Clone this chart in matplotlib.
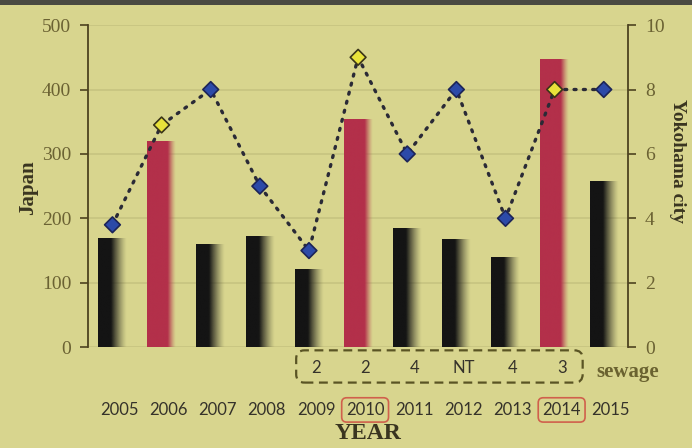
import numpy as np
import matplotlib.pyplot as plt
from matplotlib.patches import FancyBboxPatch, Rectangle
from matplotlib.transforms import blended_transform_factory, ScaledTranslation

years = ['2005', '2006', '2007', '2008', '2009', '2010',
         '2011', '2012', '2013', '2014', '2015']
japan_cases = [170, 320, 160, 172, 122, 355, 185, 168, 140, 448, 258]
yokohama_cases = [3.8, 6.9, 8.0, 5.0, 3.0, 9.0, 6.0, 8.0, 4.0, 8.0, 8.0]
highlight_years = ['2006', '2010', '2014']
boxed_years = ['2010', '2014']
sewage_years = ['2009', '2010', '2011', '2012', '2013', '2014']
sewage_values = ['2', '2', '4', 'NT', '4', '3']

BG = '#d8d58e'
AXIS = '#4d4320'
TICK = '#6b6233'
SERIF = ['Liberation Serif', 'DejaVu Serif']
SANS = ['Lato', 'DejaVu Sans']


def gradient_bar(ax, bar, rgb, solid=0.55):
    # fade the right part of each bar into the background
    x0, y0 = bar.get_x(), bar.get_y()
    w, h = bar.get_width(), bar.get_height()
    n = 80
    t = np.linspace(0, 1, n)
    alpha = np.clip((1 - t) / (1 - solid), 0, 1) ** 1.3
    img = np.zeros((1, n, 4))
    img[..., :3] = rgb
    img[..., 3] = alpha
    im = ax.imshow(img, extent=[x0, x0 + w, y0, y0 + h], aspect='auto',
                   zorder=2, interpolation='bilinear')
    im.set_clip_path(bar)


def plot_cases_chart(output_file):
    fig = plt.figure(figsize=(6.92, 4.48), dpi=100)
    fig.patch.set_facecolor(BG)
    ax = fig.add_axes([0.127, 0.225, 0.781, 0.719])
    ax.set_facecolor(BG)

    x = np.arange(len(years))
    colors = ['#b3304a' if y in highlight_years else '#141414' for y in years]
    bars = ax.bar(x, japan_cases, width=0.58, color='none', zorder=2)
    for bar, c in zip(bars, colors):
        rgb = np.array(plt.matplotlib.colors.to_rgb(c))
        gradient_bar(ax, bar, rgb, solid=0.72 if c != '#141414' else 0.45)

    ax.set_xlim(-0.5, len(years) - 0.5)
    ax.set_ylim(0, 500)
    ax.set_yticks(range(0, 501, 100))
    ax.yaxis.grid(True, color='#c6c380', lw=1.2, zorder=0)
    ax.set_axisbelow(True)
    ax.set_xticks([])
    for s in ['top', 'bottom', 'right']:
        ax.spines[s].set_visible(False)
    ax.spines['left'].set_color(AXIS)
    ax.spines['left'].set_linewidth(1.3)
    ax.tick_params(axis='y', colors=AXIS, length=6, width=1.2, pad=6,
                   labelcolor=TICK, labelsize=14)
    for lbl in ax.get_yticklabels():
        lbl.set_family(SERIF)

    ax2 = ax.twinx()
    ax2.set_ylim(0, 10)
    ax2.set_yticks(range(0, 11, 2))
    for s in ['top', 'bottom', 'left']:
        ax2.spines[s].set_visible(False)
    ax2.spines['right'].set_color(AXIS)
    ax2.spines['right'].set_linewidth(1.3)
    ax2.tick_params(axis='y', colors=AXIS, length=6, width=1.2, pad=6,
                    labelcolor=TICK, labelsize=14)
    for lbl in ax2.get_yticklabels():
        lbl.set_family(SERIF)

    ax2.plot(x, yokohama_cases, color='#2a2a36', lw=2.4,
             linestyle=(0, (0.6, 2.2)), dash_capstyle='round', zorder=3)
    mcolors = ['#e8e23a' if y in highlight_years else '#2c4aa8' for y in years]
    medges = ['#3a3418' if y in highlight_years else '#1c2458' for y in years]
    ax2.scatter(x, yokohama_cases, marker='D', s=64, c=mcolors,
                edgecolors=medges, linewidths=1.2, zorder=4)

    # year labels and sewage row below the plot
    off = ScaledTranslation(0.07, 0, fig.dpi_scale_trans)
    tr = blended_transform_factory(ax.transData, fig.transFigure) + off
    for i, y in enumerate(years):
        kw = {}
        if y in boxed_years:
            kw['bbox'] = dict(boxstyle='round,pad=0.25,rounding_size=0.3',
                              fc='none', ec='#d0604c', lw=1.2)
        ax.text(i, 0.085, y, transform=tr, ha='center', va='center',
                fontsize=12, family=SANS, color='#35322a', **kw)
    for y, v in zip(sewage_years, sewage_values):
        ax.text(years.index(y), 0.179, v, transform=tr, ha='center',
                va='center', fontsize=12, family=SANS, color='#35322a')

    box = FancyBboxPatch((0.428, 0.146), 0.414, 0.072,
                         boxstyle='round,pad=0,rounding_size=0.012',
                         mutation_aspect=692 / 448,
                         transform=fig.transFigure, fc='none', ec='#5a5424',
                         lw=1.6, ls=(0, (4, 2.5)))
    fig.patches.append(box)
    fig.text(0.862, 0.17, 'sewage', fontsize=15, fontweight='bold',
             family=SERIF, color='#6a6230', ha='left', va='center')

    fig.text(0.532, 0.032, 'YEAR', fontsize=17, fontweight='bold',
             family=SERIF, color='#3a3520', ha='center', va='center')
    fig.text(0.04, 0.58, 'Japan', fontsize=15, fontweight='bold',
             family=SERIF, color='#3a3520', rotation=90,
             ha='center', va='center')
    fig.text(0.979, 0.64, 'Yokohama city', fontsize=14, fontweight='bold',
             family=SERIF, color='#3a3520', rotation=270,
             ha='center', va='center')

    # dark edge of the photographed slide
    fig.patches.append(Rectangle((0, 0.988), 1, 0.012,
                                 transform=fig.transFigure,
                                 fc='#4a4a42', ec='none'))

    fig.savefig(output_file, dpi=100, facecolor=BG)
    plt.close(fig)


plot_cases_chart('out.png')
